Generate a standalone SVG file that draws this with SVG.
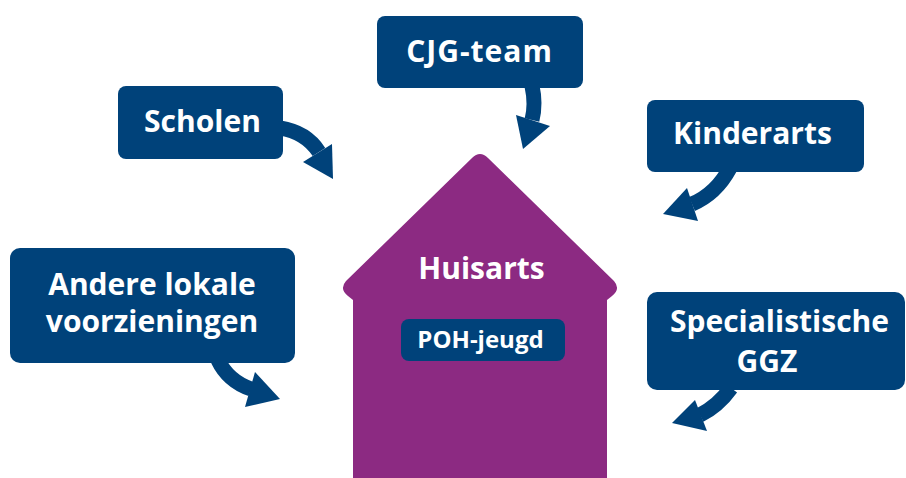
<svg xmlns="http://www.w3.org/2000/svg" width="906" height="478" viewBox="0 0 906 478">
<style>
.box{fill:#00427a}
.lbl{font-family:"Open Sans","Liberation Sans",sans-serif;font-weight:700;font-size:30px;fill:#ffffff;text-anchor:middle}
.shaft{fill:none;stroke:#00427a;stroke-width:15}
.head{fill:#00427a}
</style>
<rect width="906" height="478" fill="#ffffff"/>
<g id="connectors">
<path class="shaft" d="M 280 128 Q 306 132 319 152"/>
<polygon class="head" points="303,162 332,144 333,179"/>
<path class="shaft" d="M 532 86 Q 536 104 532 120"/>
<polygon class="head" points="516,115 550,126 523,149"/>
<path class="shaft" d="M 730 168 Q 716 194 692 204"/>
<polygon class="head" points="687,188 698,221 663,214"/>
<path class="shaft" d="M 218 360 Q 228 381 251 389"/>
<polygon class="head" points="255,372 245,407 280,399"/>
<path class="shaft" d="M 731 388 Q 718 406 700 415"/>
<polygon class="head" points="695,400 707,431 672,423"/>
</g>
<g id="huisarts">
<path fill="#8c2a82" d="M 472 158 Q 480 150 488 158 L 614 281 Q 621 289 612 296 L 607 300 L 607 478 L 353 478 L 353 300 L 348 296 Q 339 289 346 281 Z"/>
<text class="lbl" x="481.5" y="279">Huisarts</text>
</g>
<g id="poh-jeugd">
<rect class="box" x="401" y="319" width="164" height="42" rx="8"/>
<text class="lbl" x="480.5" y="348" style="font-size:24px">POH-jeugd</text>
</g>
<g id="scholen">
<rect class="box" x="118" y="86" width="165" height="73" rx="8"/>
<text class="lbl" x="202.5" y="132">Scholen</text>
</g>
<g id="cjg-team">
<rect class="box" x="377" y="16" width="206" height="72" rx="8"/>
<text class="lbl" x="479.5" y="62" style="letter-spacing:1px">CJG-team</text>
</g>
<g id="kinderarts">
<rect class="box" x="647" y="100" width="217" height="72" rx="8"/>
<text class="lbl" x="752.5" y="144">Kinderarts</text>
</g>
<g id="andere">
<rect class="box" x="10" y="248" width="285" height="115" rx="10"/>
<text class="lbl" x="152" y="295">Andere lokale</text>
<text class="lbl" x="152" y="332">voorzieningen</text>
</g>
<g id="specialistische-ggz">
<rect class="box" x="647" y="292" width="258" height="98" rx="10"/>
<text class="lbl" x="779.5" y="332">Specialistische</text>
<text class="lbl" x="767" y="372">GGZ</text>
</g>
</svg>
